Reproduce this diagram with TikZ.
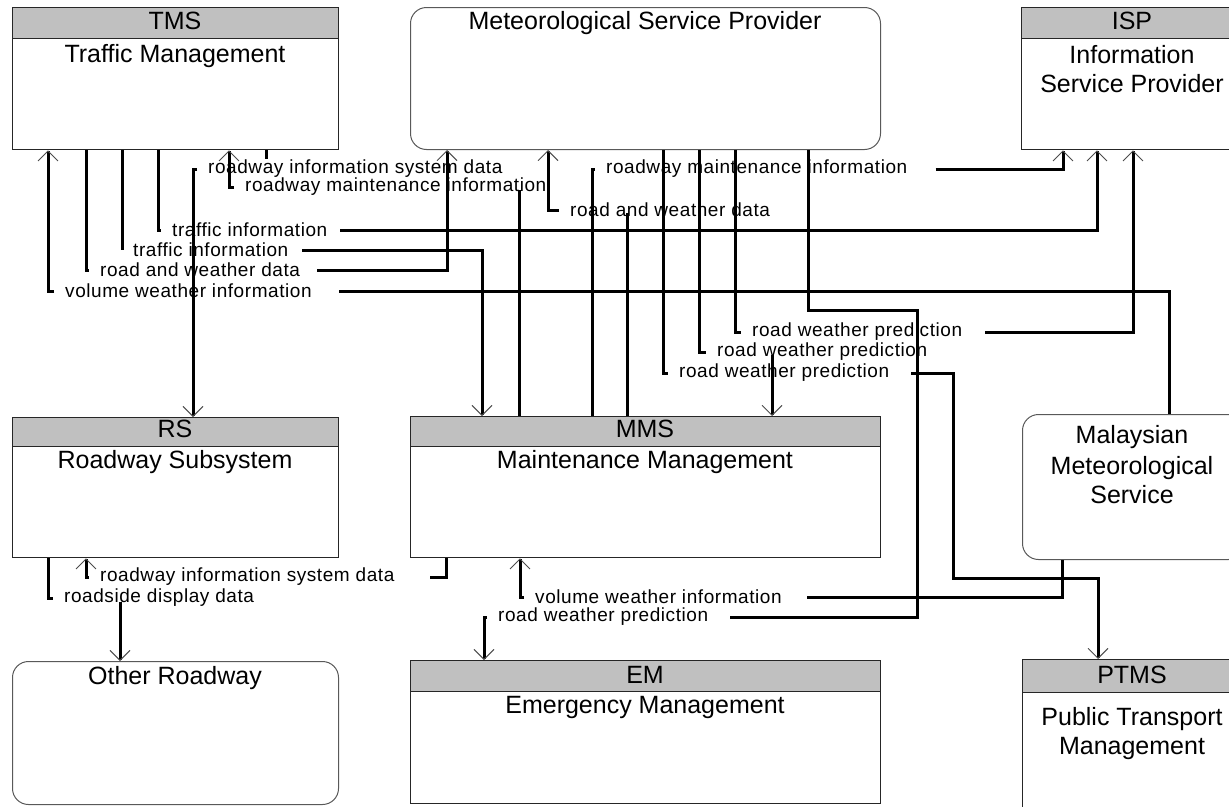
\documentclass[tikz,border=0pt]{standalone}
\usepackage{fontspec}
\setmainfont{Liberation Sans}
\newfontfamily\labfam[LetterSpace=3]{Liberation Sans}
\usetikzlibrary{arrows.meta,calc}
\definecolor{hdrgray}{HTML}{C0C0C0}
\newcommand\labfont{\labfam\fontsize{19}{20}\selectfont}
\newcommand\ttlfont{\fontsize{25}{30}\selectfont}
\begin{document}
\begin{tikzpicture}[x=1pt,y=-1pt,
  flow/.style={line width=3pt, line join=miter, line cap=butt, draw=black},
  tip/.style={-{Straight Barb[length=10pt,width=20pt,line width=0.9pt,color=black!70]}},
  lab/.style={font=\labfont, inner sep=1pt, anchor=west},
  box/.style={draw=black!85, line width=1.3pt, fill=white, anchor=north west, inner sep=0pt},
  rbox/.style={box, rounded corners=16pt, draw=black!65, line width=1pt},
  hdr/.style={draw=black!85, line width=1.3pt, fill=hdrgray, anchor=north west, inner sep=0pt},
  ttl/.style={font=\ttlfont, inner sep=0pt, anchor=base}]
\useasboundingbox (0,0) rectangle (1229,806);
\fill[white] (0,0) rectangle (1229,806);

% ---- boxes ----
\node[box, minimum width=326pt, minimum height=142pt] (tms) at (12,7) {};
\node[hdr, minimum width=326pt, minimum height=31pt] (tmsh) at (tms.north west) {};
\node[ttl] (tmsa) at (175,29) {TMS};
\node[ttl] (tmsb) at (175,62) {Traffic Management};

\node[rbox, minimum width=470pt, minimum height=142pt] (msp) at (410,7) {};
\node[ttl] (mspa) at (645,29) {Meteorological Service Provider};

\node[box, minimum width=222pt, minimum height=142pt] (isp) at (1021,7) {};
\node[hdr, minimum width=222pt, minimum height=31pt] (isph) at (isp.north west) {};
\node[ttl] (ispa) at (1132,29) {ISP};
\node[ttl] (ispb) at (1132,63) {Information};
\node[ttl] (ispc) at (1132,92) {Service Provider};

\node[box, minimum width=326pt, minimum height=140pt] (rs) at (12,417) {};
\node[hdr, minimum width=326pt, minimum height=29pt] (rsh) at (rs.north west) {};
\node[ttl] (rsa) at (175,437) {RS};
\node[ttl] (rsb) at (175,468) {Roadway Subsystem};

\node[box, minimum width=470pt, minimum height=141pt] (mms) at (410,416) {};
\node[hdr, minimum width=470pt, minimum height=30pt] (mmsh) at (mms.north west) {};
\node[ttl] (mmsa) at (645,437) {MMS};
\node[ttl] (mmsb) at (645,468) {Maintenance Management};

\node[rbox, minimum width=222pt, minimum height=145pt] (mal) at (1022,414) {};
\node[ttl] (mala) at (1132,443) {Malaysian};
\node[ttl] (malb) at (1132,474) {Meteorological};
\node[ttl] (malc) at (1132,503) {Service};

\node[rbox, minimum width=326pt, minimum height=143pt] (oth) at (12,661) {};
\node[ttl] (otha) at (175,684) {Other Roadway};

\node[box, minimum width=470pt, minimum height=143pt] (em) at (410,660) {};
\node[hdr, minimum width=470pt, minimum height=31pt] (emh) at (em.north west) {};
\node[ttl] (ema) at (645,683) {EM};
\node[ttl] (emb) at (645,713) {Emergency Management};

\node[box, minimum width=222pt, minimum height=160pt] (ptms) at (1022,659) {};
\node[hdr, minimum width=222pt, minimum height=33pt] (ptmsh) at (ptms.north west) {};
\node[ttl] (ptmsa) at (1132,683) {PTMS};
\node[ttl] (ptmsb) at (1132,725) {Public Transport};
\node[ttl] (ptmsc) at (1132,754) {Management};

% ---- labels ----
\node[lab] (l1) at (64,291) {volume weather information};
\node[lab] (l2) at (99,270) {road and weather data};
\node[lab] (l3) at (171,230) {traffic information};
\node[lab] (l4) at (132,250) {traffic information};
\node[lab] (l5) at (207,169) {roadway information system data};
\node[lab] (l6) at (244,187) {roadway maintenance information};
\node[lab] (l7) at (605,169) {roadway maintenance information};
\node[lab] (l8) at (569,210) {road and weather data};
\node[lab] (l9) at (751,332) {road weather prediction};
\node[lab] (l10) at (716,352) {road weather prediction};
\node[lab] (l11) at (678,373) {road weather prediction};
\node[lab] (l12) at (497,617) {road weather prediction};
\node[lab] (l13) at (534,597) {volume weather information};
\node[lab] (l14) at (99,577) {roadway information system data};
\node[lab] (l15) at (63,598) {roadside display data};

% ---- flows ----
% volume weather information: MalMS -> TMS
\draw[flow] (1169,0 |- mal.north) |- ([xshift=26pt]l1.east);
\draw[flow,tip] ([xshift=-10pt]l1.west) -| (48,0 |- tms.south);
% road and weather data: TMS -> MSP
\draw[flow] (86,0 |- tms.south) |- ([xshift=-10pt]l2.west);
\draw[flow,tip] ([xshift=16pt]l2.east) -| (447,0 |- msp.south);
% traffic information: TMS -> ISP
\draw[flow] (158,0 |- tms.south) |- ([xshift=-10pt]l3.west);
\draw[flow,tip] ([xshift=12pt]l3.east) -| (1097,0 |- isp.south);
% traffic information: TMS -> MMS
\draw[flow] (122,0 |- tms.south) |- ([xshift=-10pt]l4.west);
\draw[flow,tip] ([xshift=13pt]l4.east) -| (482,0 |- mms.north);
% roadway information system data: TMS -> RS
\draw[flow] (266,0 |- tms.south) -- (266,0 |- l5.north);
\draw[flow,tip] ([xshift=-10pt]l5.west) -| (193,0 |- rs.north);
% roadway maintenance information: MMS -> TMS
\draw[flow] (519,0 |- mms.north) -- ($(519,0 |- l6.west)+(0,3)$);
\draw[flow,tip] ([xshift=-10pt]l6.west) -| (229,0 |- tms.south);
% roadway maintenance information: MMS -> ISP
\draw[flow] (592,0 |- mms.north) |- ([xshift=-10pt]l7.west);
\draw[flow,tip] ([xshift=27pt]l7.east) -| (1063,0 |- isp.south);
% road and weather data: MMS -> MSP
\draw[flow] (627,0 |- mms.north) -- ($(627,0 |- l8.west)+(0,3)$);
\draw[flow,tip] ([xshift=-10pt]l8.west) -| (548,0 |- msp.south);
% road weather prediction: MSP -> ISP
\draw[flow] (735,0 |- msp.south) |- ([xshift=-10pt]l9.west);
\draw[flow,tip] ([xshift=22pt]l9.east) -| (1133,0 |- isp.south);
% road weather prediction: MSP -> MMS
\draw[flow] (699,0 |- msp.south) |- ([xshift=-10pt]l10.west);
\draw[flow,tip] ($(772,0 |- l10.west)+(0,3)$) -- (772,0 |- mms.north);
% road weather prediction: MSP -> PTMS
\draw[flow] (663,0 |- msp.south) |- ([xshift=-10pt]l11.west);
\draw[flow,tip] ([xshift=21pt]l11.east) -| (953,578) -| (1098,0 |- ptms.north);
% road weather prediction: MSP -> EM
\draw[flow] (808,0 |- msp.south) |- (917,310) |- ([xshift=21pt]l12.east);
\draw[flow,tip] ([xshift=-10pt]l12.west) -| (484,0 |- em.north);
% volume weather information: MalMS -> MMS
\draw[flow] (1062,0 |- mal.south) |- ([xshift=24pt]l13.east);
\draw[flow,tip] ([xshift=-10pt]l13.west) -| (520,0 |- mms.south);
% roadway information system data: MMS -> RS
\draw[flow] (446,0 |- mms.south) |- ([xshift=34pt]l14.east);
\draw[flow,tip] ([xshift=-10pt]l14.west) -| (86,0 |- rs.south);
% roadside display data: RS -> Other Roadway
\draw[flow] (48,0 |- rs.south) |- ([xshift=-10pt]l15.west);
\draw[flow,tip] ($(120,0 |- l15.west)+(0,4)$) -- (120,0 |- oth.north);
\end{tikzpicture}
\end{document}
